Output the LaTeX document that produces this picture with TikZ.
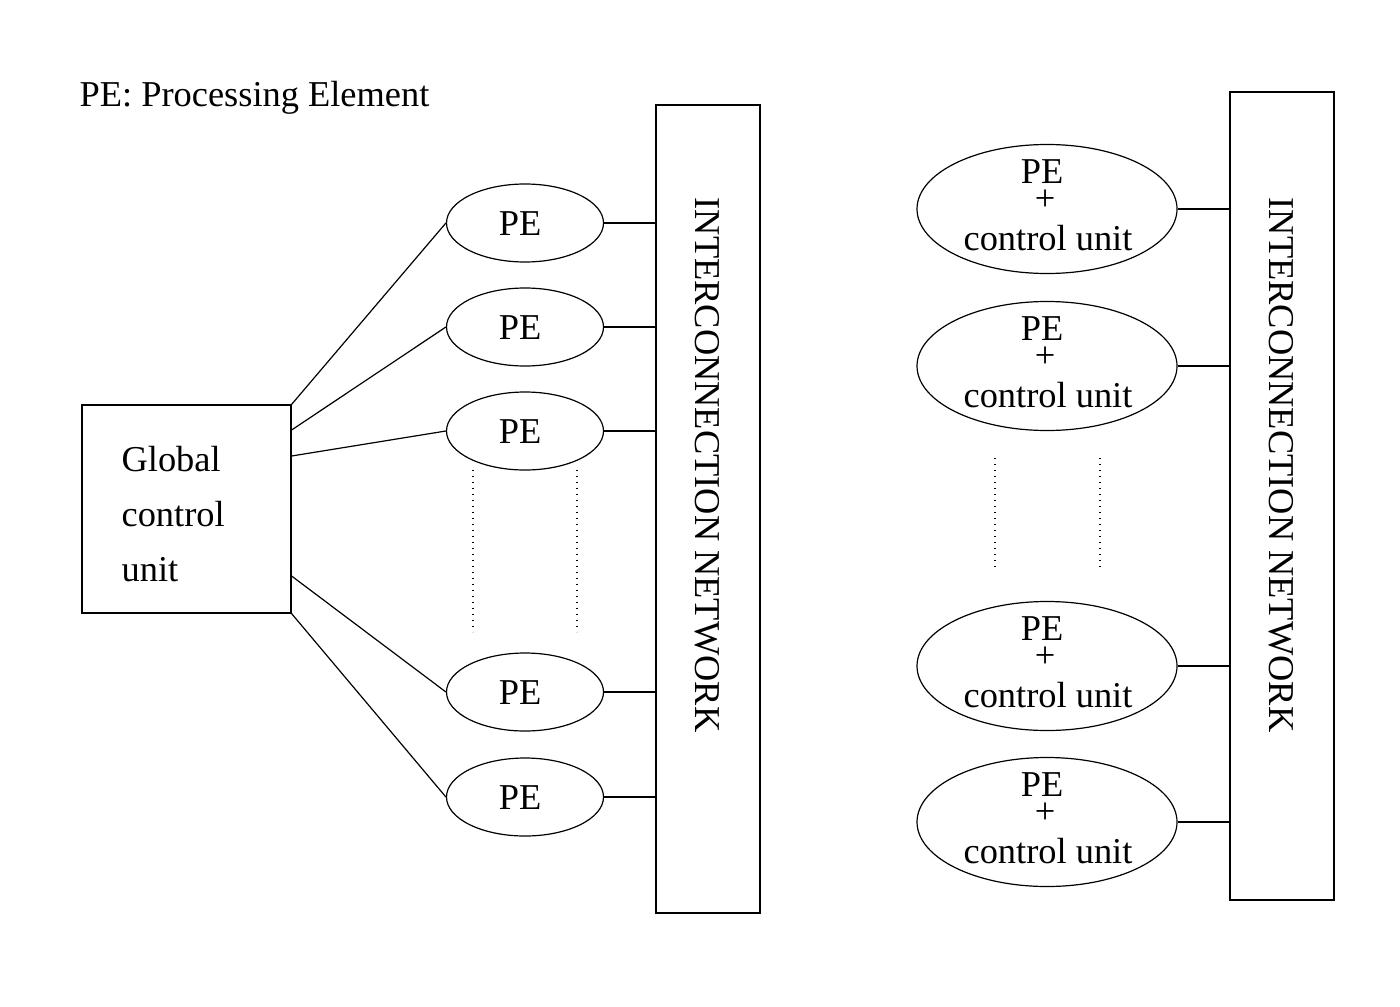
\documentclass[tikz,border=0pt]{standalone}
\usepackage{fontspec}
\setmainfont{Liberation Serif}
\usetikzlibrary{shapes.geometric}
\begin{document}
\begin{tikzpicture}[x=0.5pt,y=-0.5pt,line width=0.6pt,
  txt/.style={font=\fontsize{18.2}{22}\selectfont, inner sep=0pt},
  pe/.style={ellipse, draw, minimum width=78.5pt, minimum height=39pt, inner sep=0pt},
  pecu/.style={ellipse, draw, minimum width=130pt, minimum height=64.5pt, inner sep=0pt},
  netbox/.style={rectangle, draw, minimum width=52pt, minimum height=404pt, inner sep=0pt},
  dots/.style={dash pattern=on 0.6pt off 2.4pt, line width=0.6pt}]
\useasboundingbox (0,0) rectangle (1400,1006);
\node[txt, anchor=west] (title) at (79,98) {PE: Processing Element};
% global control unit
\node[rectangle, draw, minimum width=104.5pt, minimum height=104pt, inner sep=0pt] (g) at (186.5,509) {};
\node[txt, anchor=west, align=left, font=\fontsize{18.2}{27.5}\selectfont] (gt) at (121,514) {Global\\control\\unit};
% left PEs
\foreach \i/\y in {1/223,2/327,3/431,4/692,5/797} {
  \node[pe] (p\i) at (525,\y) {};
  \node[txt] (p\i t) at (520,\y+1) {PE};
}
% left network
\node[netbox] (n1) at (708,509) {};
\node[txt, rotate=-90] (n1t) at (707,465) {INTERCONNECTION NETWORK};
% connectors
\draw (g.north east) -- (p1.west);
\draw ([yshift=39.5pt]g.east) -- (p2.west);
\draw ([yshift=26.5pt]g.east) -- (p3.west);
\draw ([yshift=-33.5pt]g.east) -- (p4.west);
\draw (g.south east) -- (p5.west);
\foreach \i in {1,...,5} {\draw (p\i.east) -- (p\i.east -| n1.west);}
\coordinate (d1a) at (473,470); \coordinate (d1b) at (473,632);
\coordinate (d2a) at (577,470); \coordinate (d2b) at (577,632);
\draw[dots] (d1a) -- (d1b);
\draw[dots] (d2a) -- (d2b);
% right network
\node[netbox] (n2) at (1282,496) {};
\node[txt, rotate=-90] (n2t) at (1281,465) {INTERCONNECTION NETWORK};
\foreach \i/\y in {1/209,2/366,3/666,4/822} {
  \node[pecu] (q\i) at (1047,\y) {};
  \node[txt] (q\i a) at (1042,\y-37) {PE};
  \node[txt] (q\i b) at (1045,\y-9) {+};
  \node[txt] (q\i c) at (1048,\y+29) {control unit};
  \draw (q\i.east) -- (q\i.east -| n2.west);
}
\coordinate (e1a) at (995,458); \coordinate (e1b) at (995,568);
\coordinate (e2a) at (1100,458); \coordinate (e2b) at (1100,568);
\draw[dots] (e1a) -- (e1b);
\draw[dots] (e2a) -- (e2b);
\end{tikzpicture}
\end{document}
